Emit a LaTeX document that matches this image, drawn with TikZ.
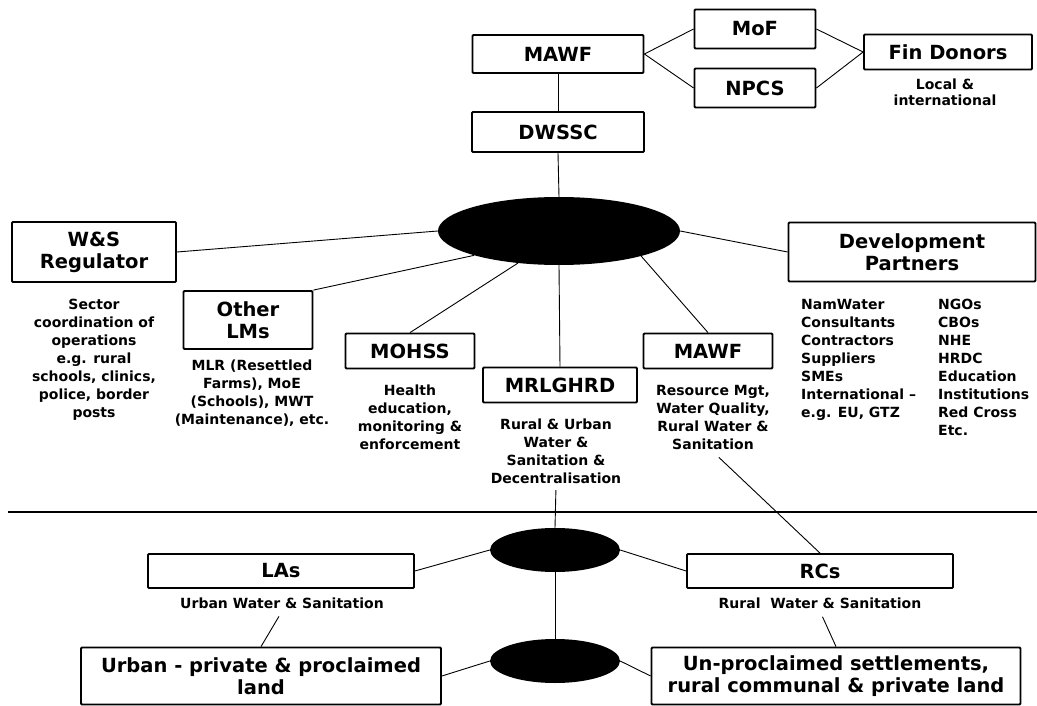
\documentclass[tikz,border=0pt]{standalone}
\usepackage{fontspec}
\setmainfont{DejaVu Sans}
\usetikzlibrary{shapes.geometric}
\begin{document}
\begin{tikzpicture}[x=1pt, y=-1pt,
    box/.style={rectangle, draw, line width=1.8pt, rounded corners=1pt, fill=white, align=center, inner sep=0pt, font=\fontsize{19.5}{22}\selectfont\bfseries},
    note/.style={align=center, inner sep=2pt, anchor=north, font=\fontsize{14}{18}\selectfont\bfseries},
    blob/.style={ellipse, fill=black, inner sep=0pt},
    link/.style={line width=0.9pt}]
    \useasboundingbox (0,0) rectangle (1037,706);

    \node[box, minimum width=171pt, minimum height=38pt] (mawf) at (558,54) {MAWF};
    \node[box, minimum width=121pt, minimum height=39pt] (mof) at (755,29) {MoF};
    \node[box, minimum width=121pt, minimum height=39pt] (npcs) at (755,88) {NPCS};
    \node[box, minimum width=168pt, minimum height=35pt] (fin) at (948,52) {Fin Donors};
    \node[note, font=\fontsize{14}{16}\selectfont\bfseries] (finnote) at (945,77) {Local \&\\international};
    \node[box, minimum width=172pt, minimum height=40pt] (dwssc) at (558,132) {DWSSC};

    \node[blob, minimum width=242pt, minimum height=68pt] (hub) at (559,231) {};

    \node[box, minimum width=164pt, minimum height=60pt] (ws) at (94,252) {W\&S\\Regulator};
    \node[note] (wsnote) at (94,297) {Sector\\coordination of\\operations\\e.g. rural\\schools, clinics,\\police, border\\posts};
    \node[box, minimum width=129pt, minimum height=58pt] (lms) at (248,320) {Other\\LMs};
    \node[note] (lmsnote) at (252,358) {MLR (Resettled\\Farms), MoE\\(Schools), MWT\\(Maintenance), etc.};
    \node[box, minimum width=129pt, minimum height=35pt] (mohss) at (410,351) {MOHSS};
    \node[note] (mohssnote) at (410,383) {Health\\education,\\monitoring \&\\enforcement};
    \node[box, minimum width=154pt, minimum height=35pt] (mrl) at (560,385) {MRLGHRD};
    \node[note] (mrlnote) at (556,417) {Rural \& Urban\\Water \&\\Sanitation \&\\Decentralisation};
    \node[box, minimum width=129pt, minimum height=35pt] (mawfb) at (708,351) {MAWF};
    \node[note] (mawfnote) at (713,383) {Resource Mgt,\\Water Quality,\\Rural Water \&\\Sanitation};
    \node[box, minimum width=247pt, minimum height=59pt] (dev) at (912,252) {Development\\Partners};
    \node[note, anchor=north west, align=left] (devnotea) at (799,297) {NamWater\\Consultants\\Contractors\\Suppliers\\SMEs\\International –\\e.g. EU, GTZ};
    \node[note, anchor=north west, align=left] (devnoteb) at (936,297) {NGOs\\CBOs\\NHE\\HRDC\\Education\\Institutions\\Red Cross\\Etc.};

    \coordinate (ruleL) at (8,512);
    \coordinate (ruleR) at (1037,512);
    \draw[line width=2.2pt] (ruleL) -- (ruleR);

    \node[blob, minimum width=130pt, minimum height=44pt] (hubup) at (555,550) {};
    \node[blob, minimum width=130pt, minimum height=44pt] (hubdown) at (555,661) {};
    \node[box, minimum width=266pt, minimum height=34pt] (las) at (281,571) {LAs};
    \node[note] (lasnote) at (282,596) {Urban Water \& Sanitation};
    \node[box, minimum width=266pt, minimum height=34pt] (rcs) at (820,571) {RCs};
    \node[note] (rcsnote) at (820,596) {Rural\ \ Water \& Sanitation};
    \node[box, minimum width=360pt, minimum height=57pt] (urban) at (261,676) {Urban - private \& proclaimed\\land};
    \node[box, minimum width=369pt, minimum height=57pt] (rural) at (836,676) {Un-proclaimed settlements,\\rural communal \& private land};

    \draw[link] (mawf.south) -- (dwssc.north);
    \draw[link] (mawf.east) -- (mof.west);
    \draw[link] (mawf.east) -- (npcs.west);
    \draw[link] (mof.east) -- (fin.west);
    \draw[link] (npcs.east) -- (fin.west);
    \draw[link] (dwssc.south) -- (hub.north);
    \draw[link] (ws.east) -- (hub.west);
    \draw[link] (lms.north east) -- (hub.196);
    \draw[link] (mohss.north) -- (hub.218);
    \draw[link] (mrl.north) -- (hub.south);
    \draw[link] (mawfb.north) -- (hub.343);
    \draw[link] (dev.west) -- (hub.east);
    \draw[link, shorten <=4pt] (mrlnote.south) -- (hubup.north);
    \draw[link] (hubup.south) -- (hubdown.north);
    \draw[link, shorten <=8pt] (mawfnote.south) -- (rcs.north);
    \draw[link] (hubup.west) -- (las.east);
    \draw[link] (hubup.east) -- (rcs.west);
    \draw[link] (hubdown.west) -- (urban.east);
    \draw[link] (hubdown.east) -- (rural.west);
    \draw[link, shorten <=6pt] (lasnote.south) -- (urban.north);
    \draw[link, shorten <=6pt] (rcsnote.south) -- (rural.north);
\end{tikzpicture}
\end{document}
